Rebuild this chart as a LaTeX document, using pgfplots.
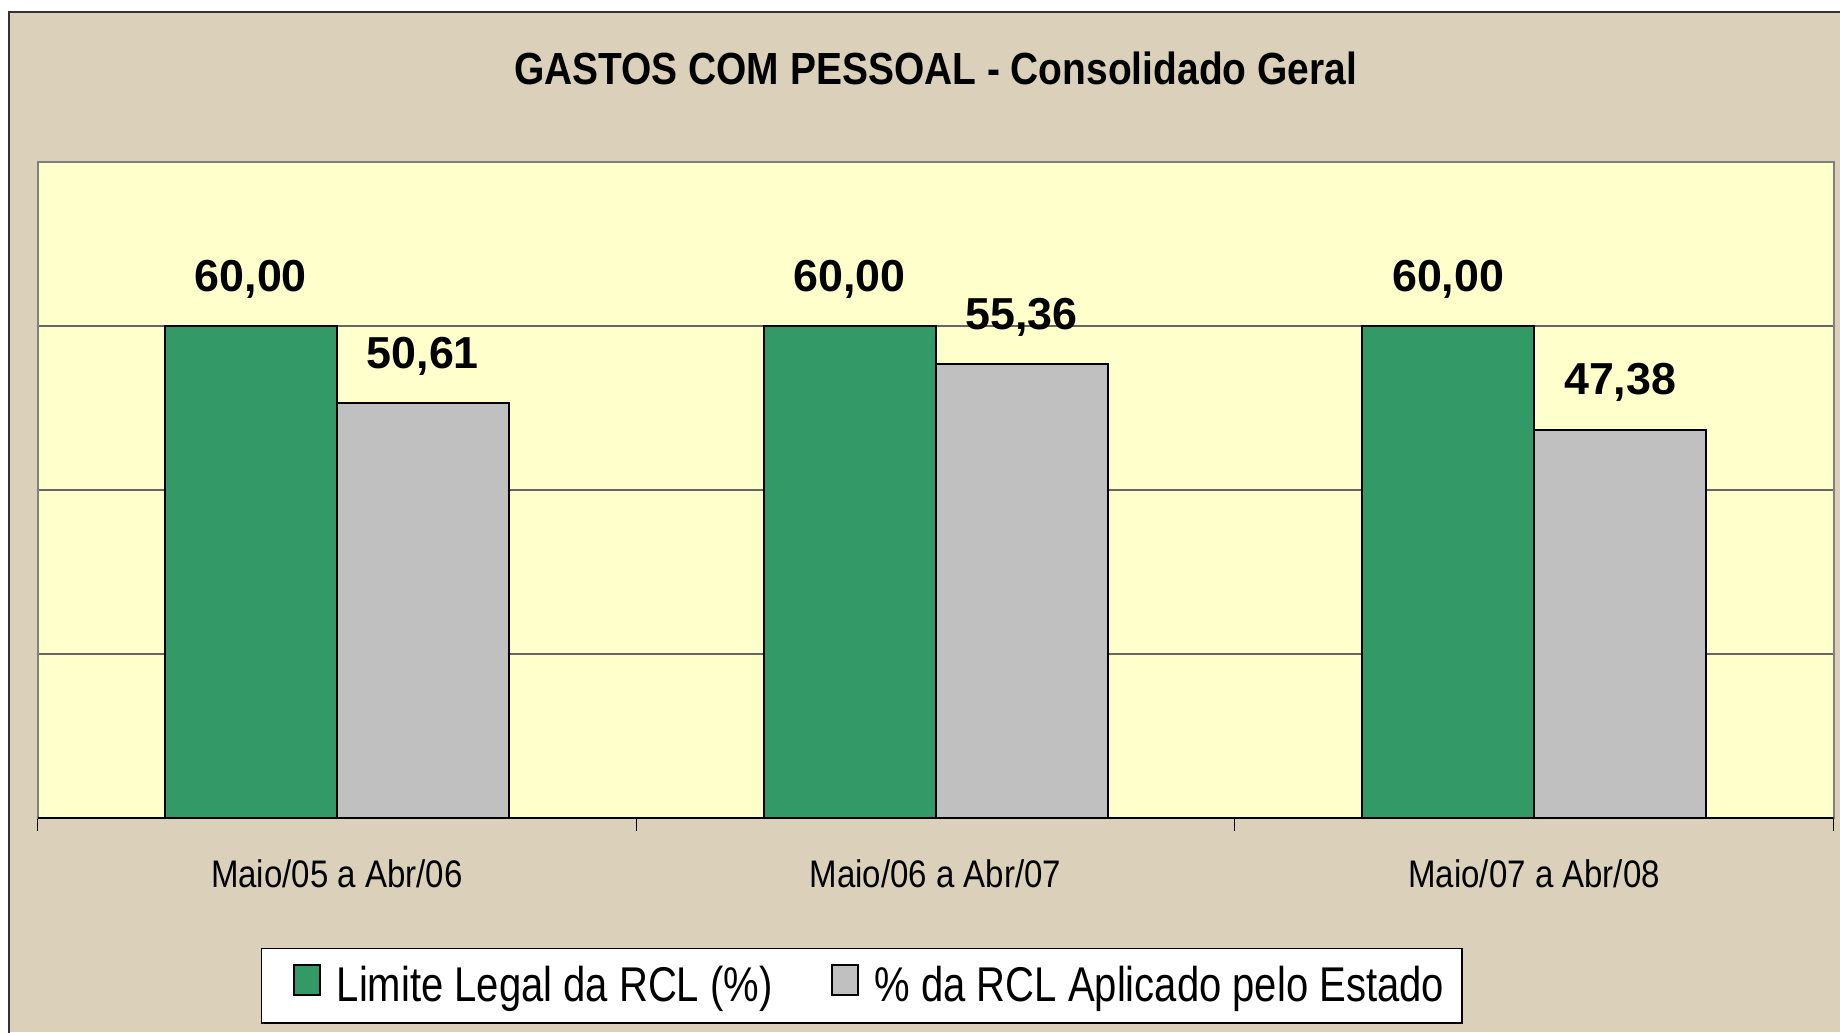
\documentclass[border=0pt]{standalone}
\usepackage{pgfplots}
\pgfplotsset{compat=1.18}
\usepackage{fontspec}
\setmainfont{Liberation Sans}
\newfontfamily\titlefont{Liberation Sans}[FakeStretch=0.865]
\newfontfamily\catfont{Liberation Sans}[FakeStretch=0.86]
\newfontfamily\legfont{Liberation Sans}[FakeStretch=0.82]
\definecolor{bg}{RGB}{219,209,186}
\definecolor{plotbg}{RGB}{255,255,204}
\definecolor{barGreen}{RGB}{51,153,102}
\definecolor{barGray}{RGB}{192,192,192}
\definecolor{frameGray}{RGB}{128,128,128}
\begin{document}
\begin{tikzpicture}
\path[use as bounding box] (-9.375pt,-53.5pt) rectangle (450.625pt,204.5pt);
\fill[white] (-9.375pt,-53.5pt) rectangle (450.625pt,204.5pt);
\fill[bg] (-7pt,-53.5pt) rectangle (450.625pt,201.5pt);
\draw[black!80, line width=0.5pt] (-7pt,-53.75pt) -- (-7pt,201.5pt) -- (451pt,201.5pt);
\begin{axis}[
  at={(0,0)}, anchor=south west,
  scale only axis, width=449pt, height=164pt,
  xmin=-0.5, xmax=2.5, ymin=0, ymax=80,
  ybar=0pt, bar width=43pt,
  xtick={0,1,2},
  xticklabels={Maio/05 a Abr/06, Maio/06 a Abr/07, Maio/07 a Abr/08},
  minor xtick={-0.5,0.5,1.5,2.5},
  ytick={20,40,60}, yticklabels={},
  ymajorgrids, grid style={black!60, line width=0.35pt},
  major tick length=0pt, minor tick length=3.25pt, tick align=outside,
  xtick pos=left, ytick pos=left,
  tick style={black, line width=0.3pt},
  axis line style={draw=frameGray, line width=0.5pt},
  axis background/.style={fill=plotbg},
  xticklabel style={font=\catfont\fontsize{9.6}{10}\selectfont, anchor=base, yshift=-17.25pt, inner sep=0pt},
  nodes near coords,
  nodes near coords style={font=\bfseries\fontsize{11.2}{12}\selectfont, anchor=base, yshift=8.75pt, inner sep=0pt, black},
  title={GASTOS COM PESSOAL - Consolidado Geral},
  title style={at={(0.5,1.0823)}, anchor=base, inner sep=0pt, font=\titlefont\bfseries\fontsize{11.25}{13}\selectfont},
  legend columns=2,
  legend style={at={(0.1242,-0.198)}, anchor=north west, draw=black, line width=0.4pt, fill=white,
    inner xsep=4.5pt, inner ysep=3.9pt, font=\legfont\fontsize{12.2}{12.5}\selectfont,
    nodes={inner sep=0pt},
    /tikz/every even column/.append style={column sep=11.15pt},
    /tikz/every odd column/.append style={column sep=4pt}},
  legend image code/.code={\path[draw=none,fill=none] (0pt,-2pt) -- (3.6pt,-2pt); \draw[#1, line width=0.5pt] (3.6pt,-2pt) rectangle (10.1pt,5.3pt);},
  /pgf/number format/fixed, /pgf/number format/fixed zerofill,
  /pgf/number format/precision=2, /pgf/number format/use comma,
  /pgf/number format/assume math mode=true,
]
\addplot[fill=barGreen, draw=black, line width=0.5pt] coordinates {(0,60) (1,60) (2,60)};
\addplot[fill=barGray, draw=black, line width=0.5pt] coordinates {(0,50.61) (1,55.36) (2,47.38)};
\legend{Limite Legal da RCL (\%), \% da RCL Aplicado pelo Estado}
\draw[black, line width=0.6pt] (rel axis cs:0,0) -- (rel axis cs:1,0);
\end{axis}
\end{tikzpicture}
\end{document}
